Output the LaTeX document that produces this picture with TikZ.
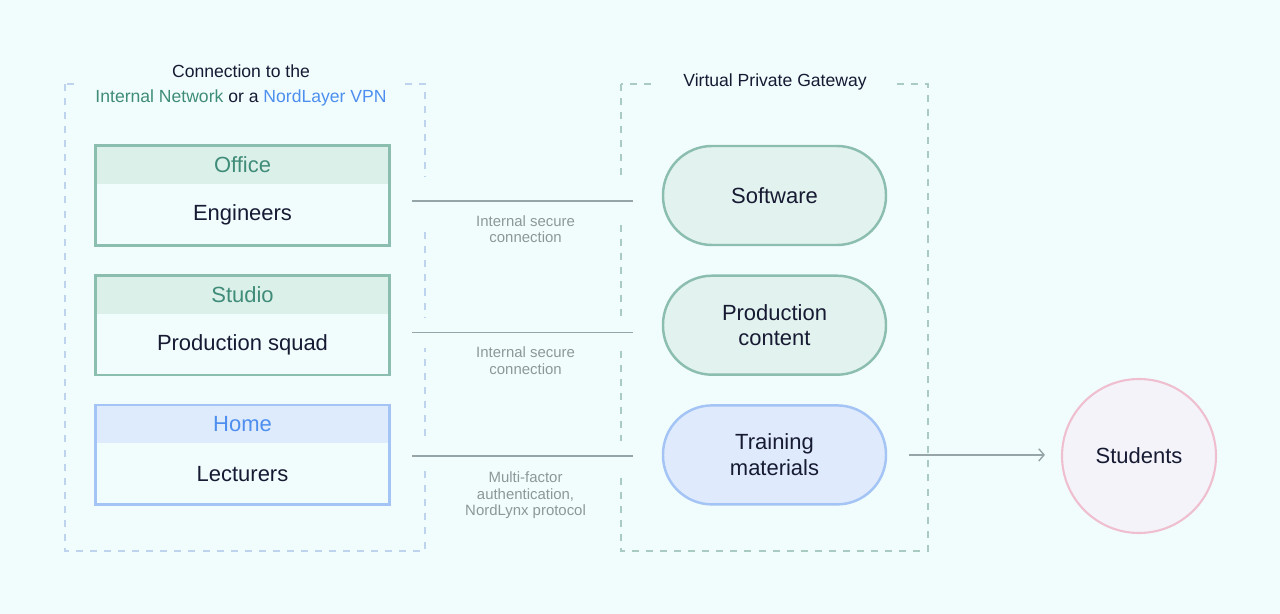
\documentclass[tikz,border=0pt]{standalone}
\usepackage{fontspec}
\setmainfont{Liberation Sans}
\usetikzlibrary{arrows.meta}

\definecolor{bgcol}{HTML}{F1FDFD}
\definecolor{inktxt}{HTML}{161A33}
\definecolor{tealline}{HTML}{8CBEB0}
\definecolor{tealfill}{HTML}{DCF0EA}
\definecolor{tealtxt}{HTML}{3F8C78}
\definecolor{blueline}{HTML}{A3C4F5}
\definecolor{bluefill}{HTML}{DDEBFC}
\definecolor{bluetxt}{HTML}{4D8EEF}
\definecolor{pillgreen}{HTML}{E2F2EE}
\definecolor{pillblue}{HTML}{DFEBFC}
\definecolor{linkgray}{HTML}{96A5A8}
\definecolor{lblgray}{HTML}{8C9799}
\definecolor{frameblue}{HTML}{BDD3EE}
\definecolor{framegreen}{HTML}{A9CBC2}
\definecolor{pinkline}{HTML}{F0BFCF}
\definecolor{pinkfill}{HTML}{F3F3F9}

\tikzset{
  frame/.style={dash pattern=on 4pt off 4pt, line width=0.8pt},
  bigtxt/.style={text=inktxt, font=\fontsize{12.5}{14.7}\selectfont, align=center},
  smalltxt/.style={text=lblgray, font=\fontsize{8.5}{9.4}\selectfont, align=center},
  link/.style={draw=linkgray, line width=0.8pt, shorten <=0.46cm, shorten >=0.58cm,
    preaction={draw=bgcol, line width=#1}},
  pill/.style={rectangle, rounded corners=0.98cm, line width=1.4pt, minimum height=1.98cm, minimum width=4.46cm}
}

\begin{document}
\begin{tikzpicture}

\path [use as bounding box, fill=bgcol] (0,0) rectangle (25.6,-12.28);

\draw [frame, frameblue] (1.3,-1.68) rectangle (8.5,-11.02);
\draw [frame, framegreen] (12.42,-1.68) rectangle (18.56,-11.02);

\draw (4.82,-1.7) node (conn) [fill=bgcol, inner xsep=0.35cm, align=center, text=inktxt, font=\fontsize{10}{14.2}\selectfont] {Connection to the\\\textcolor{tealtxt}{Internal Network} or a \textcolor{bluetxt}{NordLayer VPN}};
\draw (15.5,-1.64) node (vpg) [fill=bgcol, inner xsep=0.55cm, text=inktxt, font=\fontsize{10}{12}\selectfont] {Virtual Private Gateway};

% left boxes
\draw (4.85,-3.91) node (office) [rectangle, fill=bgcol, minimum height=1.98cm, minimum width=5.86cm] {};
\draw (office.north) node (officehd) [below, rectangle, fill=tealfill, minimum height=0.76cm, minimum width=5.86cm] {};
\draw [tealline, line width=1.5pt] (office.north west) rectangle (office.south east);
\draw (officehd) node (officetxt) [bigtxt, text=tealtxt] {Office};
\path (officehd.south) -- coordinate(a) (office.south);
\draw (a) node (engtxt) [bigtxt] {Engineers};

\draw (office.south) node (studio) [below=0.6cm, rectangle, fill=bgcol, minimum height=1.98cm, minimum width=5.86cm] {};
\draw (studio.north) node (studiohd) [below, rectangle, fill=tealfill, minimum height=0.76cm, minimum width=5.86cm] {};
\draw [tealline, line width=1.5pt] (studio.north west) rectangle (studio.south east);
\draw (studiohd) node (studiotxt) [bigtxt, text=tealtxt] {Studio};
\path (studiohd.south) -- coordinate(a) (studio.south);
\draw (a) node (squadtxt) [bigtxt] {Production squad};

\draw (studio.south) node (home) [below=0.6cm, rectangle, fill=bgcol, minimum height=1.98cm, minimum width=5.86cm] {};
\draw (home.north) node (homehd) [below, rectangle, fill=bluefill, minimum height=0.76cm, minimum width=5.86cm] {};
\draw [blueline, line width=1.5pt] (home.north west) rectangle (home.south east);
\draw (homehd) node (hometxt) [bigtxt, text=bluetxt] {Home};
\path (homehd.south) -- coordinate(a) (home.south);
\draw (a) node (lecttxt) [bigtxt] {Lecturers};

% gateway pills, level with the boxes
\coordinate (pillx) at (15.49,0);

\draw (office -| pillx) node (software) [pill, draw=tealline, fill=pillgreen] {};
\draw (software) node (softtxt) [bigtxt] {Software};

\draw (studio -| pillx) node (content) [pill, draw=tealline, fill=pillgreen] {};
\draw (content) node (contenttxt) [bigtxt] {Production\\content};

\draw (home -| pillx) node (training) [pill, draw=blueline, fill=pillblue] {};
\draw (training) node (trainingtxt) [bigtxt] {Training\\materials};

\draw (22.78,-9.12) node (students) [circle, draw=pinkline, line width=1.2pt, fill=pinkfill, minimum size=3.08cm] {};
\draw (students) node (studtxt) [bigtxt] {Students};

% connections
\draw [link=0.96cm] ([yshift=-0.11cm]office.east) -- coordinate(a) ([yshift=-0.11cm]software.west);
\draw (a) node (lbl1) [below=0.16cm, smalltxt] {Internal secure\\connection};

\draw [link=0.6cm] ([yshift=-0.15cm]studio.east) -- coordinate(a) ([yshift=-0.15cm]content.west);
\draw (a) node (lbl2) [below=0.16cm, smalltxt] {Internal secure\\connection};

\draw [link=0.6cm] ([yshift=-0.02cm]home.east) -- coordinate(a) ([yshift=-0.02cm]training.west);
\draw (a) node (lbl3) [below=0.2cm, smalltxt] {Multi-factor\\authentication,\\NordLynx protocol};

\draw [linkgray, line width=0.8pt, -{Straight Barb[length=3pt, width=7pt]}, shorten <=0.44cm, shorten >=0.32cm] (training.east) -- (training.east -| students.west);

\end{tikzpicture}
\end{document}
